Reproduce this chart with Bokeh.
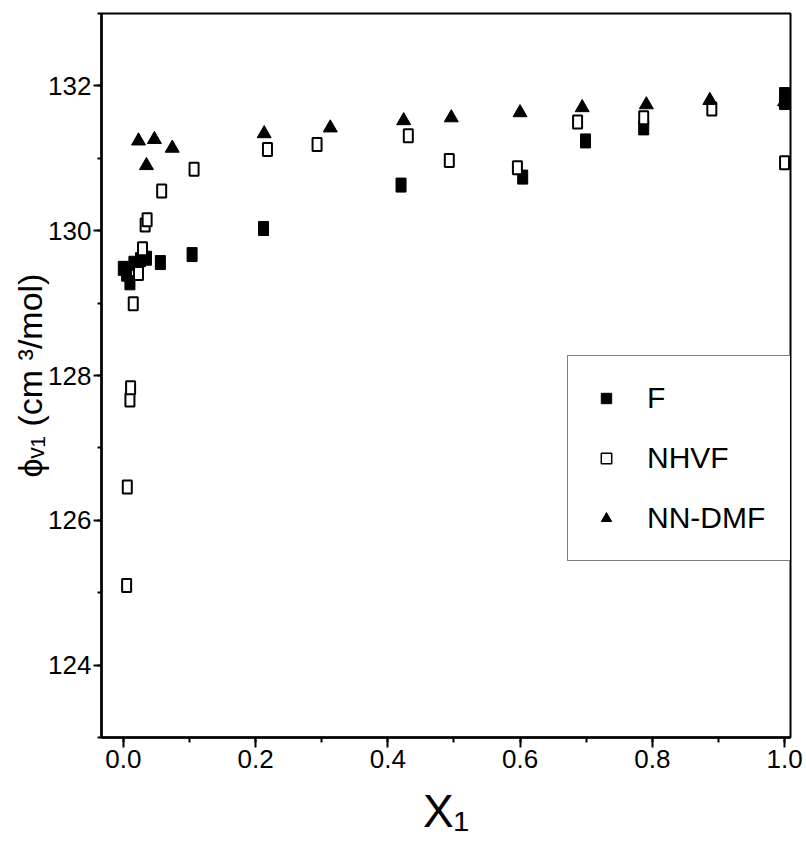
from bokeh.plotting import figure
from bokeh.models import (ColumnDataSource, Legend, LegendItem,
                          SingleIntervalTicker, Range1d)
from bokeh.embed import file_html
from bokeh.resources import INLINE

# ---- data ----
F_x = [0.000, 0.005, 0.010, 0.016, 0.026, 0.035, 0.056, 0.104, 0.212, 0.420, 0.604, 0.699, 0.787, 1.000, 1.000]
F_y = [129.48, 129.40, 129.28, 129.55, 129.60, 129.62, 129.56, 129.67, 130.03, 130.63, 130.74, 131.24, 131.42, 131.88, 131.77]

NMF_x = [0.005, 0.006, 0.010, 0.011, 0.015, 0.023, 0.029, 0.033, 0.036, 0.058, 0.107, 0.218, 0.293, 0.431, 0.493, 0.596, 0.687, 0.787, 0.890, 1.000]
NMF_y = [125.10, 126.46, 127.66, 127.83, 128.99, 129.41, 129.75, 130.08, 130.15, 130.55, 130.85, 131.12, 131.19, 131.31, 130.97, 130.87, 131.50, 131.56, 131.68, 130.94]

DMF_x = [0.023, 0.035, 0.047, 0.074, 0.213, 0.313, 0.424, 0.496, 0.600, 0.694, 0.791, 0.887, 1.000]
DMF_y = [131.24, 130.90, 131.26, 131.14, 131.34, 131.42, 131.52, 131.56, 131.63, 131.70, 131.74, 131.80, 131.78]

legend_labels = ["F", "NHVF", "NN-DMF"]
x_tick_labels = {0: "0.0", 0.2: "0.2", 0.4: "0.4", 0.6: "0.6", 0.8: "0.8", 1: "1.0"}
x_title = "X\u2081"
y_title = "\u03d5\u1d65\u2081 (cm \u00b3/mol)"

FONT = "Liberation Sans"

p = figure(width=806, height=858, output_backend="svg", toolbar_location=None,
           x_range=Range1d(-0.033, 1.009), y_range=Range1d(123, 133),
           min_border_left=101, min_border_right=16, min_border_top=13,
           min_border_bottom=121)
p.background_fill_color = "white"
p.border_fill_color = "white"
p.grid.visible = False
p.outline_line_color = "black"
p.outline_line_width = 2

# axes
p.xaxis.ticker = SingleIntervalTicker(interval=0.2, num_minor_ticks=2)
p.yaxis.ticker = SingleIntervalTicker(interval=2, num_minor_ticks=2)
for ax in (p.xaxis[0], p.yaxis[0]):
    ax.axis_line_width = 2.5
    ax.axis_line_color = "black"
    ax.major_tick_line_width = 2
    ax.minor_tick_line_width = 2
    ax.major_tick_in = 0
    ax.minor_tick_in = 0
    ax.major_label_text_font = FONT
    ax.major_label_text_font_size = "26px"
    ax.major_label_text_color = "black"
    ax.axis_label_text_font = FONT
    ax.axis_label_text_font_style = "normal"
    ax.axis_label_text_color = "black"
p.xaxis.major_tick_out = 10
p.xaxis.minor_tick_out = 5
p.yaxis.major_tick_out = 8
p.yaxis.minor_tick_out = 4
p.xaxis.major_label_standoff = 2
p.yaxis.major_label_standoff = 2
p.xaxis.major_label_overrides = x_tick_labels

p.xaxis.axis_label = x_title
p.xaxis.axis_label_text_font_size = "46px"
p.xaxis.axis_label_standoff = 14
p.yaxis.axis_label = y_title
p.yaxis.axis_label_text_font_size = "34px"
p.yaxis.axis_label_standoff = -4

# data marks
src_F = ColumnDataSource(dict(x=F_x, y=F_y))
src_N = ColumnDataSource(dict(x=NMF_x, y=NMF_y))
src_D = ColumnDataSource(dict(x=DMF_x, y=DMF_y))

# marker-style swatch renderers (hidden beneath the rectangles, used by the legend)
lg_F = p.scatter("x", "y", source=src_F, marker="square", size=8,
                 fill_color="black", line_color="black")
lg_N = p.scatter("x", "y", source=src_N, marker="square", size=7,
                 fill_color="white", line_color="black", line_width=1.5)

p.rect("x", "y", width=10, height=14, width_units="screen", height_units="screen",
       source=src_F, fill_color="black", line_color="black")
p.rect("x", "y", width=9, height=13, width_units="screen", height_units="screen",
       source=src_N, fill_color="white", line_color="black", line_width=2)
r_D = p.scatter("x", "y", source=src_D, marker="triangle", size=14,
                fill_color="black", line_color="black")

legend = Legend(items=[LegendItem(label=legend_labels[0], renderers=[lg_F]),
                       LegendItem(label=legend_labels[1], renderers=[lg_N]),
                       LegendItem(label=legend_labels[2], renderers=[r_D])],
                location=(466, 176), border_line_color="black", border_line_width=1.5,
                label_text_font=FONT, label_text_font_size="30px",
                label_text_color="black",
                glyph_width=26, glyph_height=34, label_height=34, spacing=26,
                padding=25, label_standoff=28, margin=0,
                background_fill_alpha=1.0)
p.add_layout(legend)

open("out.html", "w").write(file_html(p, INLINE))
